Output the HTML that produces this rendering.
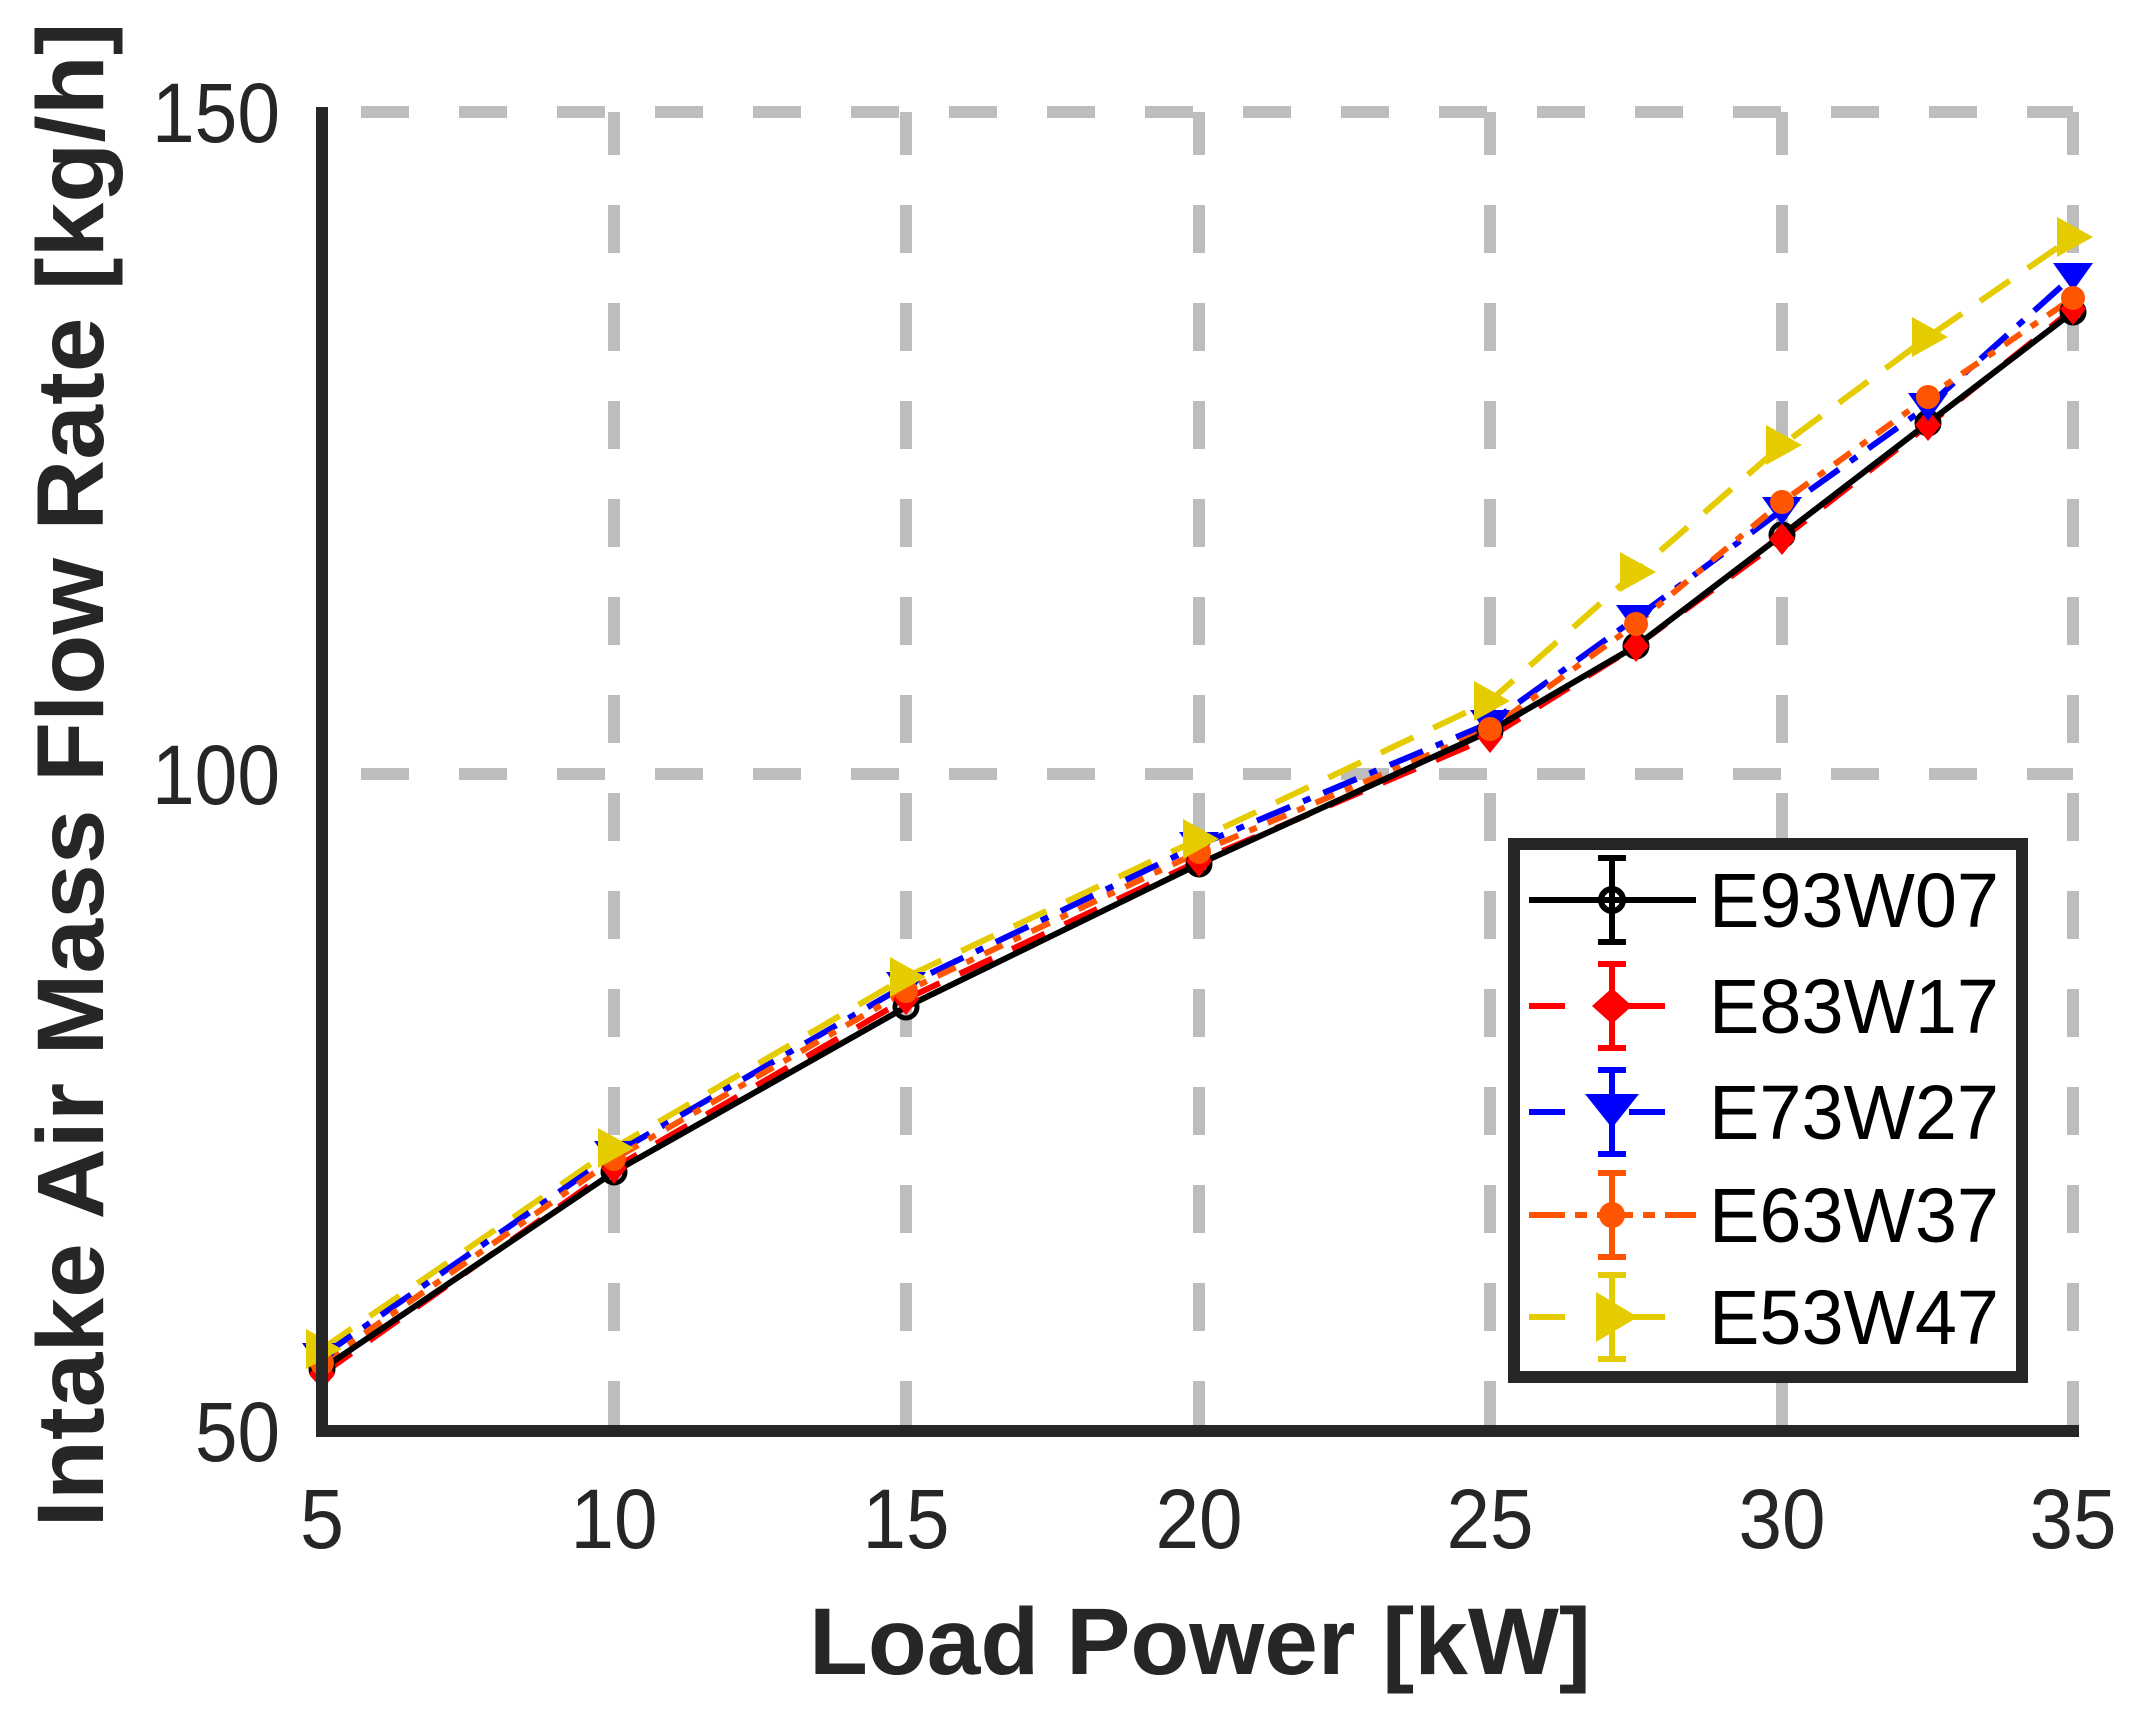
<!DOCTYPE html>
<html><head><meta charset="utf-8"><style>html,body{margin:0;padding:0;background:#fff}svg{display:block}</style></head>
<body>
<svg xmlns="http://www.w3.org/2000/svg" width="2155" height="1722" viewBox="0 0 2155 1722">
<rect width="2155" height="1722" fill="#fff"/>
<g stroke="#bdbdbd" stroke-width="12" stroke-dasharray="48 50" fill="none">
<line x1="322" y1="112" x2="2073" y2="112" stroke-dashoffset="-39"/>
<line x1="322" y1="774" x2="2073" y2="774" stroke-dashoffset="-39"/>
<line x1="614" y1="112" x2="614" y2="1431" stroke-dashoffset="5"/>
<line x1="906" y1="112" x2="906" y2="1431" stroke-dashoffset="5"/>
<line x1="1199" y1="112" x2="1199" y2="1431" stroke-dashoffset="5"/>
<line x1="1490" y1="112" x2="1490" y2="1431" stroke-dashoffset="5"/>
<line x1="1782" y1="112" x2="1782" y2="1431" stroke-dashoffset="5"/>
<line x1="2073" y1="112" x2="2073" y2="1431" stroke-dashoffset="5"/>
</g>
<g fill="none" stroke-width="6" stroke-linejoin="round">
<polyline stroke="#e5cc00" stroke-dasharray="36 22" points="322,1349 614,1148 906,977 1199,839 1490,701 1636,572 1782,445 1928,337 2073,237"/>
<polyline stroke="#0000ff" stroke-dasharray="36 14 8 14" points="322,1356 614,1154 906,985 1199,845 1490,723 1636,618 1782,510 1928,406 2073,276"/>
<polyline stroke="#ff5500" stroke-dasharray="20 12 8 12" points="322,1363 614,1159 906,991 1199,852 1490,729 1636,624 1782,502 1928,397 2073,298"/>
<polyline stroke="#ff0000" stroke-dasharray="36 22" points="322,1374 614,1168 906,999 1199,861 1490,737 1636,646 1782,539 1928,425 2073,309"/>
<polyline stroke="#000" points="322,1369 614,1172 906,1007 1199,864 1490,731 1636,646 1782,535 1928,423 2073,312"/>
</g>
<g fill="none" stroke="#000" stroke-width="5">
<circle cx="322" cy="1369" r="11"/><circle cx="614" cy="1172" r="11"/><circle cx="906" cy="1007" r="11"/><circle cx="1199" cy="864" r="11"/><circle cx="1490" cy="731" r="11"/><circle cx="1636" cy="646" r="11"/><circle cx="1782" cy="535" r="11"/><circle cx="1928" cy="423" r="11"/><circle cx="2073" cy="312" r="11"/>
</g>
<g fill="#ff0000">
<path d="M322,1358 l13,16 l-13,16 l-13,-16z"/><path d="M614,1152 l13,16 l-13,16 l-13,-16z"/><path d="M906,983 l13,16 l-13,16 l-13,-16z"/><path d="M1199,845 l13,16 l-13,16 l-13,-16z"/><path d="M1490,721 l13,16 l-13,16 l-13,-16z"/><path d="M1636,630 l13,16 l-13,16 l-13,-16z"/><path d="M1782,523 l13,16 l-13,16 l-13,-16z"/><path d="M1928,409 l13,16 l-13,16 l-13,-16z"/><path d="M2073,293 l13,16 l-13,16 l-13,-16z"/>
</g>
<g fill="#0000ff">
<path d="M302,1343 h40 l-20,28z"/><path d="M594,1141 h40 l-20,28z"/><path d="M886,972 h40 l-20,28z"/><path d="M1179,832 h40 l-20,28z"/><path d="M1470,710 h40 l-20,28z"/><path d="M1616,605 h40 l-20,28z"/><path d="M1762,497 h40 l-20,28z"/><path d="M1908,393 h40 l-20,28z"/><path d="M2053,263 h40 l-20,28z"/>
</g>
<g fill="#ff5500">
<circle cx="322" cy="1363" r="12"/><circle cx="614" cy="1159" r="12"/><circle cx="906" cy="991" r="12"/><circle cx="1199" cy="852" r="12"/><circle cx="1490" cy="729" r="12"/><circle cx="1636" cy="624" r="12"/><circle cx="1782" cy="502" r="12"/><circle cx="1928" cy="397" r="12"/><circle cx="2073" cy="298" r="12"/>
</g>
<g fill="#e5cc00">
<path d="M306,1329 v40 l36,-20z"/><path d="M598,1128 v40 l36,-20z"/><path d="M890,957 v40 l36,-20z"/><path d="M1183,819 v40 l36,-20z"/><path d="M1474,681 v40 l36,-20z"/><path d="M1620,552 v40 l36,-20z"/><path d="M1766,425 v40 l36,-20z"/><path d="M1912,317 v40 l36,-20z"/><path d="M2057,217 v40 l36,-20z"/>
</g>
<path d="M322,107 V1431 H2079" fill="none" stroke="#262626" stroke-width="12"/>
<g font-family="Liberation Sans, Arial, sans-serif" font-size="84" fill="#262626">
<text x="280" y="142" text-anchor="end" textLength="128" lengthAdjust="spacingAndGlyphs">150</text>
<text x="280" y="804" text-anchor="end" textLength="128" lengthAdjust="spacingAndGlyphs">100</text>
<text x="280" y="1461" text-anchor="end" textLength="85" lengthAdjust="spacingAndGlyphs">50</text>
<text x="322" y="1548" text-anchor="middle" textLength="44" lengthAdjust="spacingAndGlyphs">5</text>
<text x="614" y="1548" text-anchor="middle" textLength="87" lengthAdjust="spacingAndGlyphs">10</text>
<text x="906" y="1548" text-anchor="middle" textLength="87" lengthAdjust="spacingAndGlyphs">15</text>
<text x="1199" y="1548" text-anchor="middle" textLength="87" lengthAdjust="spacingAndGlyphs">20</text>
<text x="1490" y="1548" text-anchor="middle" textLength="87" lengthAdjust="spacingAndGlyphs">25</text>
<text x="1782" y="1548" text-anchor="middle" textLength="87" lengthAdjust="spacingAndGlyphs">30</text>
<text x="2073" y="1548" text-anchor="middle" textLength="87" lengthAdjust="spacingAndGlyphs">35</text>
</g>
<g font-family="Liberation Sans, Arial, sans-serif" font-weight="bold" font-size="95" fill="#262626">
<text x="1200" y="1674" text-anchor="middle" textLength="782" lengthAdjust="spacingAndGlyphs">Load Power [kW]</text>
<text transform="translate(103,775) rotate(-90)" text-anchor="middle" textLength="1505" lengthAdjust="spacingAndGlyphs">Intake Air Mass Flow Rate [kg/h]</text>
</g>
<rect x="1514" y="844" width="508" height="533" fill="#fff" stroke="#262626" stroke-width="12"/>
<g stroke-width="6" fill="none">
<line x1="1529" y1="900" x2="1696" y2="900" stroke="#000"/>
<line x1="1529" y1="1006" x2="1696" y2="1006" stroke="#ff0000" stroke-dasharray="36 64"/>
<line x1="1529" y1="1112" x2="1696" y2="1112" stroke="#0000ff" stroke-dasharray="36 64"/>
<line x1="1529" y1="1215" x2="1696" y2="1215" stroke="#ff5500" stroke-dasharray="36 10 12 10"/>
<line x1="1529" y1="1317" x2="1696" y2="1317" stroke="#e5cc00" stroke-dasharray="36 64"/>
<path d="M1612,858 v84 M1598,858 h28 M1598,942 h28" stroke="#000"/>
<path d="M1612,964 v84 M1598,964 h28 M1598,1048 h28" stroke="#ff0000"/>
<path d="M1612,1070 v84 M1598,1070 h28 M1598,1154 h28" stroke="#0000ff"/>
<path d="M1612,1173 v84 M1598,1173 h28 M1598,1257 h28" stroke="#ff5500"/>
<path d="M1612,1275 v84 M1598,1275 h28 M1598,1359 h28" stroke="#e5cc00"/>
<circle cx="1612" cy="900" r="11" stroke="#000"/>
</g>
<path d="M1612,988 l20,18 l-20,18 l-20,-18z" fill="#ff0000"/>
<path d="M1585,1094 h54 l-27,34z" fill="#0000ff"/>
<circle cx="1612" cy="1215" r="13" fill="#ff5500"/>
<path d="M1596,1292 v50 l42,-25z" fill="#e5cc00"/>
<g font-family="Liberation Sans, Arial, sans-serif" font-size="77" fill="#000">
<text x="1709" y="927" textLength="290" lengthAdjust="spacingAndGlyphs">E93W07</text>
<text x="1709" y="1033" textLength="290" lengthAdjust="spacingAndGlyphs">E83W17</text>
<text x="1709" y="1139" textLength="290" lengthAdjust="spacingAndGlyphs">E73W27</text>
<text x="1709" y="1242" textLength="290" lengthAdjust="spacingAndGlyphs">E63W37</text>
<text x="1709" y="1344" textLength="290" lengthAdjust="spacingAndGlyphs">E53W47</text>
</g>
</svg>
</body></html>
